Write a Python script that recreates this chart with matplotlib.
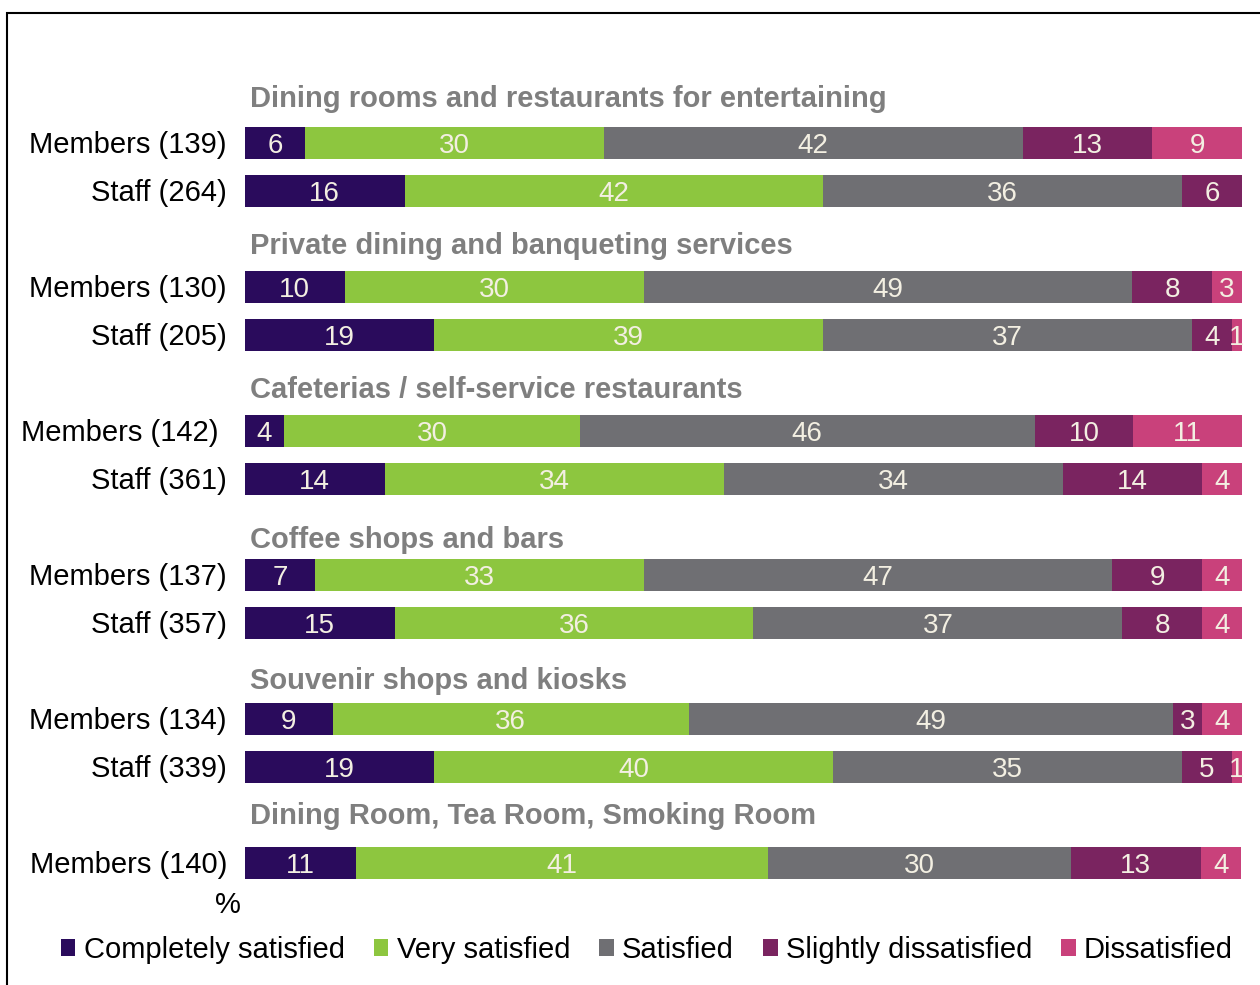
import numpy as np
import matplotlib.pyplot as plt
from matplotlib.patches import Rectangle
from matplotlib.transforms import ScaledTranslation

plt.rcParams['font.family'] = ['Liberation Sans', 'DejaVu Sans']

# data (percent)
groups = ['Dining rooms and restaurants for entertaining',
          'Private dining and banqueting services',
          'Cafeterias / self-service restaurants',
          'Coffee shops and bars',
          'Souvenir shops and kiosks',
          'Dining Room, Tea Room, Smoking Room']
group_rows = [2, 2, 2, 2, 2, 1]
rows = ['Members (139)', 'Staff (264)', 'Members (130)', 'Staff (205)',
        'Members (142)', 'Staff (361)', 'Members (137)', 'Staff (357)',
        'Members (134)', 'Staff (339)', 'Members (140)']
completely = [6, 16, 10, 19, 3.9, 14, 7, 15, 8.8, 19, 11.1]
very = [30, 42, 30, 39, 29.7, 34, 33, 36, 35.7, 40, 41.4]
satisfied = [42, 36, 49, 37, 45.6, 34, 47, 37, 48.6, 35, 30.3]
slightly = [13, 6, 8, 4, 9.9, 14, 9, 8, 2.9, 5, 13.1]
dissatisfied = [9, 0, 3, 1, 10.9, 4, 4, 4, 4.0, 1, 4.0]
series = ['Completely satisfied', 'Very satisfied', 'Satisfied',
          'Slightly dissatisfied', 'Dissatisfied']
colors = ['#2a0b5c', '#8dc63f', '#6f6f73', '#7a2460', '#c9417b']

# row positions: one empty slot between groups for the title
ypos = []
start = 0
for n in group_rows:
    ypos += [start + i for i in range(n)]
    start += n + 1
ypos = np.array(ypos, dtype=float)
title_off = [-0.90, -0.835, -0.835, -0.71, -0.77, -0.96]

fig = plt.figure(figsize=(12.6, 9.85), dpi=100)
ax = fig.add_axes([245/1260, 1-890/985, 997/1260, 830/985])

data = [completely, very, satisfied, slightly, dissatisfied]
left = np.zeros(len(rows))
for vals, col, name in zip(data, colors, series):
    vals = np.array(vals, dtype=float)
    ax.barh(ypos + 0.02, vals, left=left, height=0.667, color=col, label=name)
    for y, l, v in zip(ypos, left, vals):
        if v > 0:
            ax.text(l + v/2, y + 0.08, '%.0f' % v, ha='center', va='center',
                    color='#f3efe2', fontsize=20)
    left += vals

# group titles
first = 0
for g, n, off in zip(groups, group_rows, title_off):
    ax.text(0.5, ypos[first] + off, g, ha='left', va='center',
            fontsize=21, fontweight='bold', color='#7f7f7f')
    first += n

ax.set_xlim(0, 100)
ax.set_ylim(15.583, -1.708)
ax.set_yticks(ypos)
ax.set_yticklabels(rows, fontsize=21)
ax.tick_params(axis='y', length=0, pad=13)
ax.set_xticks([])
for s in ax.spines.values():
    s.set_visible(False)
# the cafeteria members label sits a bit further left in the original
lab = ax.get_yticklabels()[4]
lab.set_transform(lab.get_transform() + ScaledTranslation(-0.08, 0, fig.dpi_scale_trans))

fig.text(241/1260, 1-905/985, '%', ha='right', va='center', fontsize=21)

fig.legend(loc='center', bbox_to_anchor=(647/1260, 1-950/985), ncol=5,
           frameon=False, fontsize=21, handlelength=0.5, handleheight=0.5,
           handletextpad=0.28, columnspacing=1.0, borderaxespad=0)

# frame round the picture (left and top edges visible)
fig.patches.append(Rectangle((7/1260, -0.1), 1.2, 1.1 - 13/985,
                             transform=fig.transFigure, fill=False,
                             edgecolor='black', linewidth=1.5))

plt.savefig('out.png', dpi=100)
